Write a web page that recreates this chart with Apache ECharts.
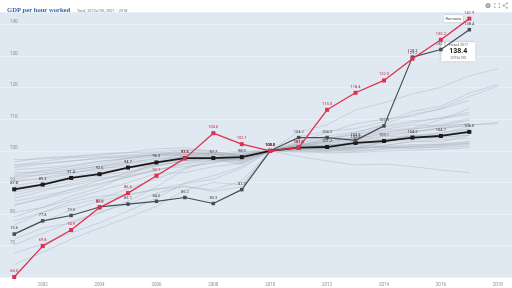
<!DOCTYPE html>
<html><head><meta charset="utf-8">
<script src="https://cdn.jsdelivr.net/npm/echarts@6/dist/echarts.min.js"></script>
<style>html,body{margin:0;padding:0;background:#fff}#c{width:512px;height:288px}</style>
</head><body><div id="c"></div>
<script>
const years = ['2001','2002','2003','2004','2005','2006','2007','2008','2009','2010','2011','2012','2013','2014','2015','2016','2017','2018'];
const yTicks = [70, 80, 90, 100, 110, 120, 130, 140];

const romania = [60.0,69.8,74.9,82.0,86.6,92.1,97.6,105.6,102.1,100.0,101.0,113.0,118.4,122.3,129.2,135.2,141.9];
const ireland = [73.6,77.8,79.5,82.2,83.1,84.0,85.2,83.3,87.7,100.0,104.2,104.2,103.3,107.9,129.7,132.1,138.4];
const oecd    = [87.8,89.3,91.4,92.6,94.7,96.3,97.7,97.7,98.0,100.0,101.0,101.2,102.5,103.1,104.2,104.7,106.0];

const g1  = [92.5,93.8,95.0,96.6,97.8,98.9,99.6,99.0,98.2,100,100.9,101.3,102.0,102.6,103.5,104.1,105.0,null];
const g2  = [90.1,91.5,93.0,94.8,96.0,97.7,98.8,99.1,98.4,100,101.2,101.8,102.2,103.0,104.1,104.8,105.9,null];
const g3  = [88.0,89.6,91.2,93.0,94.5,96.2,97.3,97.6,97.9,100,101.5,102.9,103.8,104.5,106.0,107.2,108.1,109.0];
const g4  = [95.5,96.0,96.8,97.5,98.4,98.8,99.0,98.5,97.1,100,100.5,100.7,101.0,101.4,101.6,102.1,102.6,null];
const g5  = [94.0,94.6,95.3,96.7,97.5,98.9,100.2,99.4,98.7,100,101.0,100.9,101.2,101.0,101.4,101.9,102.4,null];
const g6  = [91.8,92.4,93.9,95.1,96.4,97.5,98.1,97.0,96.2,100,100.3,100.1,100.6,101.3,102.0,102.1,103.0,null];
const g7  = [86.9,88.5,90.3,92.1,93.4,95.3,97.0,97.8,98.6,100,101.9,103.0,104.0,105.2,106.1,107.3,108.7,null];
const g8  = [84.0,85.7,87.6,89.7,91.6,93.9,95.8,97.1,97.5,100,102.0,103.5,105.3,107.4,108.9,110.5,112.2,null];
const g9  = [96.5,97.8,98.2,99.0,99.5,100.6,101.0,99.8,98.0,100,99.8,99.3,99.5,99.9,100.2,100.5,101.0,null];
const g10 = [93.2,93.0,93.8,95.2,96.9,98.3,99.6,99.2,99.9,100,100.2,100.8,101.5,101.8,102.9,103.5,104.0,null];
const g11 = [85.0,87.2,89.5,91.5,92.0,94.2,95.0,96.3,98.0,100,98.2,96.8,95.5,95.8,95.0,93.9,93.1,null];
const g12 = [89.0,90.3,91.7,93.6,94.5,96.0,97.2,97.3,97.0,100,101.6,102.5,103.2,104.6,104.6,105.8,106.9,null];
const g13 = [97.2,97.4,98.1,98.6,99.4,99.7,100.4,99.8,98.5,100,100.1,99.6,99.8,100.5,101.1,101.0,101.5,null];
const g14 = [91.0,92.5,93.1,94.0,95.9,97.0,98.1,98.6,99.5,100,100.8,101.7,103.1,103.8,104.0,104.9,105.6,null];
const g15 = [88.5,89.2,91.0,92.9,94.6,95.4,96.8,97.6,98.9,100,102.6,104.7,106.0,107.9,109.5,110.2,111.6,null];
const g16 = [94.7,95.8,96.7,97.8,98.0,98.7,98.8,98.0,96.5,100,100.4,100.6,100.0,100.8,101.3,101.6,102.3,null];
const g17 = [86.0,87.9,89.0,90.8,92.8,95.1,96.9,96.7,97.2,100,101.1,101.8,102.6,103.6,104.7,105.0,106.3,null];
const g18 = [90.6,91.0,92.6,94.5,95.0,96.5,97.5,98.2,99.5,100,99.6,100.0,100.9,101.2,100.7,101.4,102.0,null];
const g19 = [92.0,93.5,94.3,95.9,97.6,98.5,98.6,97.5,97.2,100,101.0,100.4,100.9,102.5,105.8,107.0,108.2,108.6];
const g20 = [95.2,96.7,97.8,98.1,98.6,99.4,99.2,98.8,99.1,100,100.6,101.9,102.3,103.4,104.3,104.4,104.9,null];
const g21 = [83.0,84.8,86.9,89.3,91.7,93.8,96.1,98.0,98.4,100,101.3,102.8,104.5,106.0,106.8,107.9,109.7,null];
const e1  = [64.0,67.8,72.0,75.5,78.8,82.4,87.5,90.0,89.2,100,103.0,105.8,108.5,110.1,111.0,113.5,117.2,120.5];
const e2  = [67.5,70.5,74.0,77.2,80.9,85.0,89.8,92.1,95.0,100,101.5,103.9,105.7,108.4,111.6,113.2,116.0,null];
const e3  = [70.2,73.8,77.5,80.6,83.2,86.5,88.9,87.1,88.6,100,102.0,103.1,104.2,106.5,107.1,109.9,113.4,null];
const e4  = [72.0,75.5,77.1,80.2,84.0,88.6,94.2,97.3,95.8,100,102.3,104.0,105.0,106.8,108.2,107.9,108.6,null];
const e5  = [76.5,80.5,83.9,85.6,86.2,87.7,89.6,91.0,94.5,100,104.5,106.2,107.0,109.2,112.5,114.1,118.3,121.0];
const e6  = [79.0,82.1,84.5,87.3,89.9,92.8,93.1,95.0,96.0,100,100.9,99.8,100.4,101.6,103.0,102.8,104.9,null];
const e7  = [80.5,82.0,85.6,88.3,92.4,96.3,99.5,99.0,97.4,100,101.8,101.2,101.0,102.8,105.0,105.4,107.8,null];
const e8  = [82.6,85.0,87.7,90.6,93.2,95.8,98.6,99.4,96.7,100,102.2,101.3,101.7,103.4,103.8,104.9,107.0,null];
const e9  = [77.8,80.5,82.9,84.8,87.9,91.1,94.6,96.2,97.9,100,101.5,102.2,103.8,105.6,106.9,108.3,110.2,null];
const e10 = [74.0,77.5,81.2,84.1,86.0,87.9,88.6,87.6,90.5,100,106.0,108.2,113.0,115.2,118.0,120.1,123.8,126.0];

const grayLines = [g1,g2,g3,g4,g5,g6,g7,g8,g9,g10,g11,g12,g13,g14,g15,g16,g17,g18,g19,g20,g21,e1,e2,e3,e4,e5,e6,e7,e8,e9,e10];

const chart = echarts.init(document.getElementById('c'), null, {renderer: 'canvas'});

const graySeries = grayLines.map(d => ({
  type: 'line', data: d, symbol: 'none', silent: true, z: 1,
  lineStyle: {color: '#a3acb8', width: 0.6, opacity: 0.65}
}));

function hiSeries(name, data, color, labelColor, width, size, z, extra) {
  return Object.assign({
    name: name, type: 'line', data: data, z: z,
    symbol: 'rect', symbolSize: size,
    itemStyle: {color: color},
    lineStyle: {color: color, width: width},
    label: {show: true, position: 'top', distance: 2, fontSize: 4, color: labelColor,
      fontFamily: 'Roboto', formatter: p => p.value.toFixed(1)}
  }, extra || {});
}

const last = romania.length - 1;
const iconColor = '#a0a6ae';

chart.setOption({
  animation: false,
  backgroundColor: '#ffffff',
  title: [{
    text: 'GDP per hour worked',
    left: 2, top: 1.5,
    textStyle: {fontFamily: 'Liberation Serif', fontWeight: 'bold', fontSize: 6.6, color: '#2f63a8'}
  }, {
    text: 'Total, 2010=100, 2001 – 2018',
    left: 72, top: 4,
    textStyle: {fontFamily: 'Roboto', fontWeight: 'normal', fontSize: 3.8, color: '#777'}
  }],
  graphic: [
    {type: 'circle', shape: {cx: 488, cy: 5.5, r: 2.6}, style: {fill: iconColor}, silent: true},
    {type: 'circle', shape: {cx: 488, cy: 5.5, r: 0.6}, style: {fill: '#fff'}, silent: true},
    {type: 'polygon', shape: {points: [[494,3],[496,3],[494,5]]}, style: {fill: iconColor}, silent: true},
    {type: 'polygon', shape: {points: [[500,3],[498,3],[500,5]]}, style: {fill: iconColor}, silent: true},
    {type: 'polygon', shape: {points: [[494,8],[496,8],[494,6]]}, style: {fill: iconColor}, silent: true},
    {type: 'polygon', shape: {points: [[500,8],[498,8],[500,6]]}, style: {fill: iconColor}, silent: true},
    {type: 'polyline', shape: {points: [[507, 3.2], [503.5, 5.5], [507, 7.8]]}, style: {stroke: iconColor, lineWidth: 0.7, fill: null}, silent: true},
    {type: 'circle', shape: {cx: 507, cy: 3.2, r: 0.9}, style: {fill: iconColor}, silent: true},
    {type: 'circle', shape: {cx: 503.5, cy: 5.5, r: 0.9}, style: {fill: iconColor}, silent: true},
    {type: 'circle', shape: {cx: 507, cy: 7.8, r: 0.9}, style: {fill: iconColor}, silent: true}
  ],
  grid: {left: -2, right: -2, top: 12, bottom: 11, show: true, backgroundColor: '#e0e8f2', borderWidth: 0},
  xAxis: {
    type: 'category', data: years, boundaryGap: true,
    axisLine: {show: false}, axisTick: {show: false},
    axisLabel: {fontSize: 4.5, color: '#8a8f96', margin: 5, fontFamily: 'Roboto',
      interval: (i, v) => (+v) % 2 === 0}
  },
  yAxis: {
    type: 'value', min: 60, max: 144, interval: 10,
    axisLine: {show: false}, axisTick: {show: false},
    splitLine: {lineStyle: {color: '#eaf0f7', width: 0.8}},
    axisLabel: {inside: true, margin: 10, fontSize: 4.5, color: '#8a8f96', fontFamily: 'Roboto',
      verticalAlign: 'bottom', showMinLabel: false, showMaxLabel: false,
      formatter: v => yTicks.indexOf(v) >= 0 ? String(v) : ''}
  },
  series: graySeries.concat([
    hiSeries('OECD', oecd, '#1a1a1a', '#333', 1.8, 4, 5),
    hiSeries('Ireland', ireland, '#474d55', '#444', 1.2, 3.5, 6, {
      markPoint: {
        symbol: 'rect', symbolSize: [34, 19], symbolOffset: [-11, 22], silent: true,
        itemStyle: {color: '#ffffff', shadowBlur: 3, shadowColor: 'rgba(0,0,0,0.25)'},
        label: {show: true, position: 'inside', lineHeight: 5,
          formatter: '{a|Ireland 2017}\n{b|138.4}\n{a|2010=100}',
          rich: {a: {fontSize: 3.5, color: '#666', fontFamily: 'Roboto', lineHeight: 5},
                 b: {fontSize: 7, fontWeight: 'bold', color: '#222', fontFamily: 'Roboto', lineHeight: 8}}},
        data: [{coord: [years[last], ireland[last]]}]
      }
    }),
    hiSeries('Romania', romania, '#e0304e', '#c41f3d', 1.3, 4, 7, {
      markPoint: {
        symbol: 'rect', symbolSize: [19, 7], symbolOffset: [-16, 0], silent: true,
        itemStyle: {color: '#ffffff', shadowBlur: 2, shadowColor: 'rgba(0,0,0,0.2)'},
        label: {show: true, position: 'inside', fontSize: 4, color: '#555',
          fontFamily: 'Roboto', formatter: 'Romania'},
        data: [{coord: [years[last], romania[last]]}]
      }
    })
  ])
});
</script>
</body></html>
